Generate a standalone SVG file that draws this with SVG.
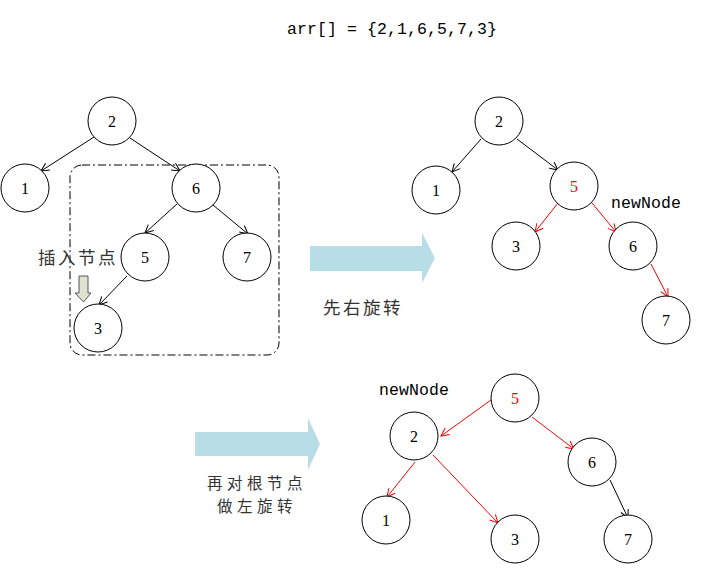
<svg xmlns="http://www.w3.org/2000/svg" width="726" height="583" viewBox="0 0 726 583">
<style>
.n circle{fill:#fff;stroke:#000;stroke-width:1}
.n text{font-family:"Liberation Serif",serif;font-size:16px;text-anchor:middle;dominant-baseline:central;fill:#000}
.n text.r{fill:#f00}
.e{fill:none;stroke:#000;stroke-width:1}
.er{fill:none;stroke:#f00;stroke-width:1}
.mono{font-family:"Liberation Mono",monospace;font-size:16.5px;fill:#000}
.cn{font-family:"Noto Sans CJK SC",sans-serif;font-size:17.5px;fill:#333;letter-spacing:2.5px}
.cn2{font-family:"Noto Sans CJK SC",sans-serif;font-size:15.5px;fill:#333;letter-spacing:4.5px}
.big{fill:#b7dde6;stroke:none}
</style>
<defs>
<marker id="ab" viewBox="0 0 10 10" refX="9" refY="5" markerWidth="10" markerHeight="10" markerUnits="userSpaceOnUse" orient="auto"><path d="M1,1 L9,5 L1,9" fill="none" stroke="#000" stroke-width="1"/></marker>
<marker id="ar" viewBox="0 0 10 10" refX="9" refY="5" markerWidth="10" markerHeight="10" markerUnits="userSpaceOnUse" orient="auto"><path d="M1,1 L9,5 L1,9" fill="none" stroke="#f00" stroke-width="1"/></marker>
</defs>
<rect width="726" height="583" fill="#fff"/>
<text class="mono" x="287" y="34" textLength="210">arr[] = {2,1,6,5,7,3}</text>

<rect x="70" y="165" width="209" height="190" rx="12" fill="none" stroke="#000" stroke-width="1" stroke-dasharray="8,3,2,3"/>

<g id="connectors">
<line class="e" x1="94" y1="137" x2="41" y2="171" marker-end="url(#ab)"/>
<line class="e" x1="130" y1="138" x2="180" y2="171" marker-end="url(#ab)"/>
<line class="e" x1="177" y1="204" x2="145" y2="233" marker-end="url(#ab)"/>
<line class="e" x1="213" y1="205" x2="248" y2="234" marker-end="url(#ab)"/>
<line class="e" x1="127" y1="276" x2="99" y2="305" marker-end="url(#ab)"/>

<line class="e" x1="481" y1="139" x2="452" y2="172" marker-end="url(#ab)"/>
<line class="e" x1="517" y1="139" x2="558" y2="170" marker-end="url(#ab)"/>
<line class="er" x1="558" y1="203" x2="535" y2="232" marker-end="url(#ar)"/>
<line class="er" x1="592" y1="203" x2="616" y2="232" marker-end="url(#ar)"/>
<line class="er" x1="651" y1="264" x2="668" y2="297" marker-end="url(#ar)"/>

<line class="er" x1="491" y1="400" x2="441" y2="436" marker-end="url(#ar)"/>
<line class="er" x1="532" y1="417" x2="574" y2="449" marker-end="url(#ar)"/>
<line class="er" x1="415" y1="462" x2="387" y2="497" marker-end="url(#ar)"/>
<line class="er" x1="433" y1="455" x2="498" y2="523" marker-end="url(#ar)"/>
<line class="e" x1="610" y1="480" x2="628" y2="518" marker-end="url(#ab)"/>
</g>

<g id="l2" class="n"><circle cx="112" cy="121" r="24"/><text x="112" y="121">2</text></g>
<g id="l1" class="n"><circle cx="25" cy="188" r="24"/><text x="25" y="188">1</text></g>
<g id="l6" class="n"><circle cx="196" cy="188" r="24"/><text x="196" y="188">6</text></g>
<g id="l5" class="n"><circle cx="145" cy="257" r="24"/><text x="145" y="257">5</text></g>
<g id="l7" class="n"><circle cx="247" cy="257" r="24"/><text x="247" y="257">7</text></g>
<g id="l3" class="n"><circle cx="98" cy="328" r="24"/><text x="98" y="328">3</text></g>

<text class="cn" x="38" y="264">插入节点</text>
<path d="M79,276 H88 V293 H91 L83.5,302 L75,293 H79 Z" fill="#dde3cf" stroke="#555" stroke-width="1"/>

<path class="big" d="M310,246 H422 V233 L435,258 L422,283 V271 H310 Z"/>
<text class="cn" x="323" y="314">先右旋转</text>

<g id="m2" class="n"><circle cx="499" cy="121" r="24"/><text x="499" y="121">2</text></g>
<g id="m1" class="n"><circle cx="436" cy="190" r="24"/><text x="436" y="190">1</text></g>
<g id="m5" class="n"><circle cx="574" cy="186" r="24"/><text class="r" x="574" y="186">5</text></g>
<g id="m3" class="n"><circle cx="516" cy="246" r="24"/><text x="516" y="246">3</text></g>
<g id="m6" class="n"><circle cx="633" cy="246" r="24"/><text x="633" y="246">6</text></g>
<g id="m7" class="n"><circle cx="666" cy="320" r="24"/><text x="666" y="320">7</text></g>
<text class="mono" x="611" y="208" textLength="70">newNode</text>

<path class="big" d="M195,432 H308 V418 L320,444 L308,470 V456 H195 Z"/>
<text class="cn2" x="207" y="489">再对根节点</text>
<text class="cn2" x="217" y="512">做左旋转</text>

<g id="b5" class="n"><circle cx="515" cy="398" r="24"/><text class="r" x="515" y="398">5</text></g>
<g id="b2" class="n"><circle cx="414" cy="436" r="24"/><text x="414" y="436">2</text></g>
<g id="b6" class="n"><circle cx="592" cy="462" r="24"/><text x="592" y="462">6</text></g>
<g id="b1" class="n"><circle cx="386" cy="520" r="24"/><text x="386" y="520">1</text></g>
<g id="b3" class="n"><circle cx="515" cy="539" r="24"/><text x="515" y="539">3</text></g>
<g id="b7" class="n"><circle cx="628" cy="539" r="24"/><text x="628" y="539">7</text></g>
<text class="mono" x="379" y="395" textLength="70">newNode</text>
</svg>
